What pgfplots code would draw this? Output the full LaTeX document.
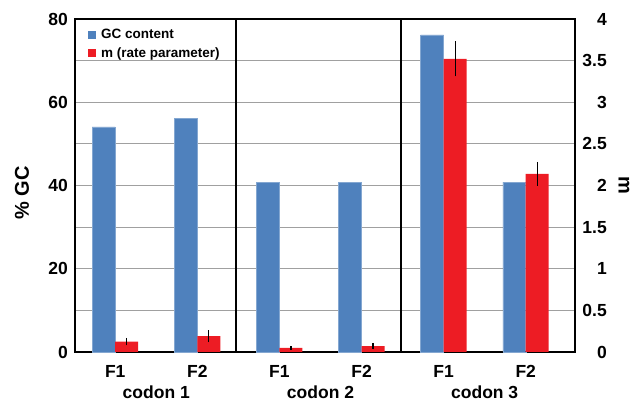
\documentclass[border=0pt]{standalone}
\usepackage{fontspec}
\setmainfont{Liberation Sans}
\usepackage{pgfplots}
\pgfplotsset{compat=1.18}
\definecolor{gcblue}{RGB}{79,129,189}
\definecolor{mred}{RGB}{237,28,36}
\definecolor{gridgray}{RGB}{160,160,160}
\newcommand\tickfont{\fontsize{17.5}{20}\selectfont\bfseries}
\begin{document}
\begin{tikzpicture}
\useasboundingbox (-75pt,-51pt) rectangle (559pt,352pt);
\begin{axis}[
  scale only axis, width=500pt, height=333pt, at={(0pt,0pt)}, anchor=south west,
  xmin=-0.49, xmax=5.6, ymin=0, ymax=80, clip=false,
  axis line style={line width=1.2pt, black},
  xtick={0,...,5}, xticklabels={F1,F2,F1,F2,F1,F2},
  major tick length=0pt, minor tick length=0pt,
  ytick={0,10,...,80}, yticklabels={0,,20,,40,,60,,80},
  ymajorgrids, grid style={gridgray, line width=1.2pt},
  /pgf/number format/assume math mode=true,
  ticklabel style={font=\tickfont},
  yticklabel style={anchor=east, inner sep=0pt, xshift=-7pt},
  xticklabel style={anchor=north, inner sep=0pt, yshift=-13pt},
  legend style={draw=none, fill=none, font=\fontsize{13.5}{15}\selectfont\bfseries,
    at={(axis description cs:0.026,0.975)}, anchor=north west,
    inner sep=0pt, row sep=3pt, nodes={inner sep=2pt}},
  legend cell align=left,
  legend image code/.code={\fill[#1, draw=none] (0pt,-4pt) rectangle (8pt,4pt); \path[draw=none, fill=none] (0pt,0pt) -- (11pt,0pt);},
]
\addplot[ybar, bar width=0.28, bar shift=0pt, fill=gcblue, draw=gcblue!70!white, line width=0.4pt]
  coordinates {(-0.14,54.1) (0.86,56.2) (1.86,40.8) (2.86,40.8) (3.86,76.2) (4.86,40.8)};
\addlegendentry{GC content}
\addlegendimage{fill=mred, draw=none}
\addlegendentry{m (rate parameter)}
\draw[black, line width=1.2pt] (axis cs:1.47,0) -- (axis cs:1.47,80);
\draw[black, line width=1.2pt] (axis cs:3.48,0) -- (axis cs:3.48,80);
\node[font=\tickfont, anchor=base] at ([yshift=-47pt]axis cs:0.5,0) {codon 1};
\node[font=\tickfont, anchor=base] at ([yshift=-47pt]axis cs:2.5,0) {codon 2};
\node[font=\tickfont, anchor=base] at ([yshift=-47pt]axis cs:4.5,0) {codon 3};
\node[font=\fontsize{20}{22}\selectfont\bfseries, rotate=90] at (axis description cs:-0.106,0.477) {\% GC};
\node[font=\fontsize{20}{22}\selectfont\bfseries, rotate=-90] at (axis description cs:1.098,0.5015) {m};
\end{axis}
\begin{axis}[
  scale only axis, width=500pt, height=333pt, at={(0pt,0pt)}, anchor=south west,
  xmin=-0.49, xmax=5.6, ymin=0, ymax=4,
  axis x line=none, axis y line*=right,
  axis line style={line width=1.2pt, black},
  major tick length=0pt,
  ytick={0,0.5,...,4},
  /pgf/number format/assume math mode=true,
  ticklabel style={font=\tickfont},
  yticklabel style={anchor=east, inner sep=0pt, xshift=32pt},
]
\addplot[ybar, bar width=0.28, bar shift=0pt, fill=mred, draw=none,
  error bars/.cd, y dir=both, y explicit,
  error bar style={black, line width=1.2pt}, error mark=none]
  coordinates {(0.14,0.124) +- (0,0.045) (1.14,0.19) +- (0,0.07) (2.14,0.05) +- (0,0.025)
               (3.14,0.07) +- (0,0.04) (4.14,3.52) +- (0,0.21) (5.14,2.14) +- (0,0.145)};
\end{axis}
\end{tikzpicture}
\end{document}
